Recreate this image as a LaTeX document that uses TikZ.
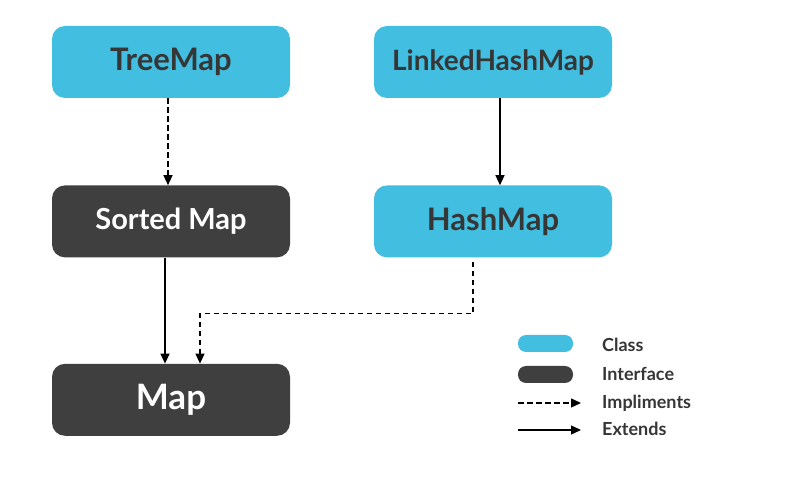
\documentclass[tikz,border=0pt]{standalone}
\usepackage{fontspec}
\setmainfont{Lato}
\usetikzlibrary{positioning,arrows.meta}

\definecolor{classblue}{HTML}{41BEE0}
\definecolor{ifacegray}{HTML}{3F3F3F}
\definecolor{labelgray}{HTML}{363636}

\tikzset{
  classbox/.style={rectangle, rounded corners=13pt, fill=classblue, text=labelgray,
    minimum width=238pt, minimum height=72pt, font=\bfseries\fontsize{31}{36}\selectfont},
  ifacebox/.style={classbox, fill=ifacegray, text=white},
  extends/.style={-{Triangle[length=10pt,width=9pt]}, line width=1.3pt, draw=black},
  impl/.style={extends, dash pattern=on 5.5pt off 3.5pt},
  keybox/.style={rectangle, rounded corners=8pt, inner sep=0pt, minimum width=55pt, minimum height=17pt},
  keytext/.style={anchor=base west, inner sep=0pt, text=labelgray, font=\bfseries\fontsize{18}{21}\selectfont}
}

\begin{document}
\begin{tikzpicture}
  \useasboundingbox[fill=white] (0pt,0pt) rectangle (807pt,-478pt);

  % classes and interfaces
  \node (TreeMap) at (171pt,-62pt) [classbox] {TreeMap};
  \node (LinkedHashMap) at (493pt,-62pt) [classbox, font=\bfseries\fontsize{28}{34}\selectfont] {LinkedHashMap};
  \node (SortedMap) [ifacebox, below=87pt of TreeMap, font=\bfseries\fontsize{29}{34}\selectfont] {Sorted Map};
  \node (HashMap) [classbox, below=87pt of LinkedHashMap] {HashMap};
  \node (Map) [ifacebox, below=106pt of SortedMap, font=\bfseries\fontsize{35}{40}\selectfont] {Map};

  \draw[impl] ([xshift=-3pt]TreeMap.south) -- ([xshift=-3pt]SortedMap.north);
  \draw[extends] ([xshift=7pt]LinkedHashMap.south) -- ([xshift=7pt]HashMap.north);
  \draw[extends] ([xshift=-6pt]SortedMap.south) -- ([xshift=-6pt]Map.north);
  \draw[impl] ([xshift=-20pt,yshift=-4pt]HashMap.south) -- ++(0pt,-52pt) -| ([xshift=29pt]Map.north);

  % legend
  \node (ClassKey) at (545.5pt,-343.5pt) [keybox, fill=classblue] {};
  \node (IfaceKey) at (545.5pt,-374.5pt) [keybox, fill=ifacegray] {};
  \coordinate (ImplFrom) at (518pt,-403pt);
  \coordinate (ImplTo) at (581pt,-403pt);
  \coordinate (ExtFrom) at (518pt,-430pt);
  \coordinate (ExtTo) at (581pt,-430pt);
  \draw[impl] (ImplFrom) -- (ImplTo);
  \draw[extends] (ExtFrom) -- (ExtTo);

  \node (ClassText) at (602pt,-352pt) [keytext] {Class};
  \node (IfaceText) at (602pt,-381pt) [keytext] {Interface};
  \node (ImplText) at (602pt,-409pt) [keytext] {Impliments};
  \node (ExtText) at (602pt,-436pt) [keytext] {Extends};
\end{tikzpicture}
\end{document}
